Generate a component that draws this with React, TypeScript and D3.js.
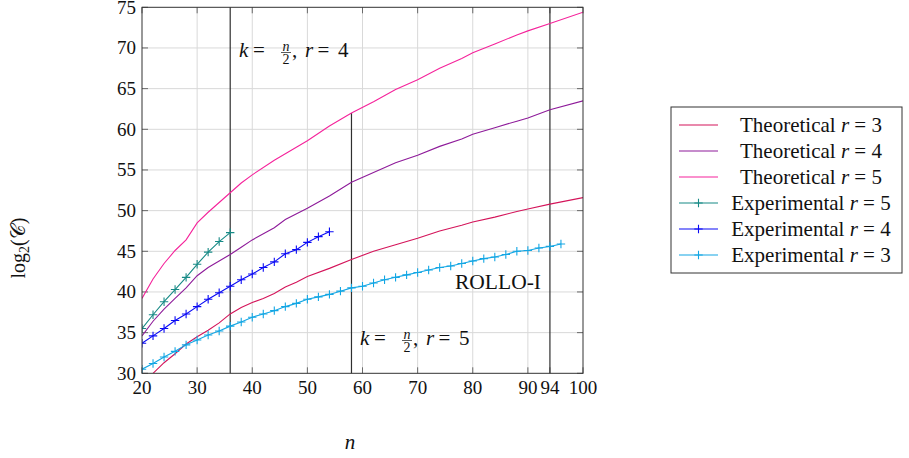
import React, { useRef, useEffect } from 'react';
import * as d3 from 'd3';

// tick values
const xTicks = [20, 30, 40, 50, 60, 70, 80, 90, 94, 100];
const xGrid = [30, 40, 50, 60, 70, 80, 90];
const yTicks = [30, 35, 40, 45, 50, 55, 60, 65, 70, 75];

// theoretical curves
const theo3N = [22, 24, 26, 28, 30, 32, 34, 36, 38, 40, 42, 44, 46, 48, 50, 54, 58, 62, 66, 70, 74, 78, 80, 84, 88, 90, 94, 100];
const theo3V = [30.0, 31.3, 32.4, 33.6, 34.5, 35.3, 36.2, 37.3, 38.1, 38.7, 39.2, 39.8, 40.6, 41.2, 41.9, 42.9, 44.0, 45.0, 45.8, 46.6, 47.5, 48.2, 48.6, 49.2, 49.9, 50.2, 50.8, 51.6];

const theo4N = [20, 22, 24, 26, 28, 30, 32, 34, 36, 38, 40, 44, 46, 50, 54, 58, 62, 66, 70, 74, 78, 80, 84, 88, 90, 94, 100];
const theo4V = [34.6, 36.4, 37.9, 39.2, 40.5, 42.0, 43.0, 43.8, 44.6, 45.5, 46.4, 47.9, 48.9, 50.3, 51.8, 53.5, 54.7, 55.9, 56.8, 57.9, 58.8, 59.4, 60.2, 61.0, 61.4, 62.4, 63.5];

const theo5N = [20, 22, 24, 26, 28, 30, 32, 34, 36, 38, 40, 44, 48, 50, 54, 58, 62, 66, 70, 74, 78, 80, 84, 88, 90, 94, 100];
const theo5V = [39.2, 41.6, 43.5, 45.1, 46.4, 48.5, 49.8, 51.0, 52.2, 53.4, 54.4, 56.2, 57.8, 58.6, 60.4, 62.0, 63.4, 64.9, 66.1, 67.5, 68.7, 69.4, 70.5, 71.6, 72.1, 73.0, 74.4];

// experimental points
const exp5N = [20, 22, 24, 26, 28, 30, 32, 34, 36];
const exp5V = [35.5, 37.2, 38.8, 40.3, 41.8, 43.4, 44.9, 46.2, 47.3];

const exp4N = [20, 22, 24, 26, 28, 30, 32, 34, 36, 38, 40, 42, 44, 46, 48, 50, 52, 54];
const exp4V = [33.7, 34.6, 35.5, 36.5, 37.3, 38.2, 39.1, 39.9, 40.7, 41.5, 42.2, 43.0, 43.7, 44.7, 45.2, 46.1, 46.8, 47.4];

const exp3N = [20, 22, 24, 26, 28, 30, 32, 34, 36, 38, 40, 42, 44, 46, 48, 50, 52, 54, 56, 58, 60, 62, 64, 66, 68, 70, 72, 74, 76, 78, 80, 82, 84, 86, 88, 90, 92, 94, 96];
const exp3V = [30.5, 31.2, 32.0, 32.7, 33.5, 34.1, 34.7, 35.2, 35.8, 36.3, 36.9, 37.3, 37.7, 38.2, 38.6, 39.1, 39.4, 39.7, 40.1, 40.5, 40.7, 41.1, 41.5, 41.8, 42.1, 42.4, 42.7, 43.0, 43.2, 43.5, 43.8, 44.1, 44.3, 44.6, 45.0, 45.1, 45.4, 45.6, 45.9];

// vertical reference lines (n, value where the line stops)
const refN = [36, 58, 94];
const refTop = [75, 62, 75];

const series = [
  { label: 'Theoretical', r: '3', n: theo3N, v: theo3V, color: '#d4145a', marks: false },
  { label: 'Theoretical', r: '4', n: theo4N, v: theo4V, color: '#8e1b9a', marks: false },
  { label: 'Theoretical', r: '5', n: theo5N, v: theo5V, color: '#f5239b', marks: false },
  { label: 'Experimental', r: '5', n: exp5N, v: exp5V, color: '#178a86', marks: true },
  { label: 'Experimental', r: '4', n: exp4N, v: exp4V, color: '#0a0af5', marks: true },
  { label: 'Experimental', r: '3', n: exp3N, v: exp3V, color: '#12a6e4', marks: true },
];

const SERIF = "'Liberation Serif', 'Times New Roman', serif";

const plus = (cx: number, cy: number) => {
  const s = 4.2;
  return `M${cx - s},${cy}H${cx + s}M${cx},${cy - s}V${cy + s}`;
};

export default function App() {
  const ref = useRef<SVGSVGElement>(null);

  useEffect(() => {
    if (!ref.current) return;
    const svg = d3.select(ref.current);
    svg.selectAll('*').remove();

    const x = d3.scaleLinear().domain([20, 100]).range([142, 583]);
    const y = d3.scaleLinear().domain([30, 75]).range([373.3, 7.3]);
    const [x0, x1] = x.range();
    const [yb, yt] = y.range();

    svg.append('clipPath').attr('id', 'plotClip')
      .append('rect').attr('x', x0).attr('y', yt).attr('width', x1 - x0).attr('height', yb - yt);

    // grid
    svg.selectAll('.gx').data(xGrid).enter().append('line')
      .attr('x1', d => x(d)).attr('x2', d => x(d)).attr('y1', yt).attr('y2', yb)
      .attr('stroke', '#d9d9d9');
    svg.selectAll('.gy').data(yTicks.slice(1, -1)).enter().append('line')
      .attr('x1', x0).attr('x2', x1).attr('y1', d => y(d)).attr('y2', d => y(d))
      .attr('stroke', '#d9d9d9');

    // ticks on all four sides
    const tk = svg.append('g').attr('stroke', '#6a6a6a');
    xTicks.forEach(t => {
      tk.append('line').attr('x1', x(t)).attr('x2', x(t)).attr('y1', yb).attr('y2', yb - 6);
      tk.append('line').attr('x1', x(t)).attr('x2', x(t)).attr('y1', yt).attr('y2', yt + 6);
    });
    yTicks.forEach(t => {
      tk.append('line').attr('x1', x0).attr('x2', x0 + 6).attr('y1', y(t)).attr('y2', y(t));
      tk.append('line').attr('x1', x1).attr('x2', x1 - 6).attr('y1', y(t)).attr('y2', y(t));
    });

    // reference lines
    refN.forEach((n, i) => {
      svg.append('line').attr('x1', x(n)).attr('x2', x(n)).attr('y1', yb).attr('y2', y(refTop[i]))
        .attr('stroke', '#2f2f2f').attr('stroke-width', 1.2);
    });

    // series
    const line = d3.line<[number, number]>().x(d => x(d[0])).y(d => y(d[1]));
    const plot = svg.append('g').attr('clip-path', 'url(#plotClip)');
    series.forEach(s => {
      const pts = s.n.map((n, j) => [n, s.v[j]] as [number, number]);
      plot.append('path').attr('d', line(pts) || '').attr('fill', 'none')
        .attr('stroke', s.color).attr('stroke-width', 1.1);
      if (s.marks) {
        plot.append('path').attr('d', pts.map(p => plus(x(p[0]), y(p[1]))).join(''))
          .attr('fill', 'none').attr('stroke', s.color).attr('stroke-width', 1.1);
      }
    });

    // frame
    svg.append('rect').attr('x', x0).attr('y', yt).attr('width', x1 - x0).attr('height', yb - yt)
      .attr('fill', 'none').attr('stroke', '#333');

    const txt = (parent: any, px: number, py: number, s: string, size: number, anchor = 'start', italic = false) =>
      parent.append('text').attr('x', px).attr('y', py).attr('font-size', size)
        .attr('font-family', SERIF).style('font-family', SERIF)
        .attr('text-anchor', anchor).attr('font-style', italic ? 'italic' : 'normal')
        .attr('fill', '#111').text(s);

    // tick labels
    xTicks.forEach(t => txt(svg, x(t), 394, String(t), 19, 'middle'));
    yTicks.forEach(t => txt(svg, 136, y(t) + 6.5, String(t), 19, 'end'));

    // k = n/2 annotations
    const math = (mx: number, my: number, r: string) => {
      txt(svg, mx, my, 'k', 21, 'start', true);
      txt(svg, mx + 14, my, '=', 21);
      txt(svg, mx + 47, my - 6.5, 'n', 14, 'middle', true);
      svg.append('line').attr('x1', mx + 42).attr('x2', mx + 52).attr('y1', my - 4.5).attr('y2', my - 4.5)
        .attr('stroke', '#111').attr('stroke-width', 0.7);
      txt(svg, mx + 47, my + 7, '2', 14, 'middle');
      txt(svg, mx + 53, my, ',', 21);
      txt(svg, mx + 66, my, 'r', 21, 'start', true);
      txt(svg, mx + 78.5, my, '=', 21);
      txt(svg, mx + 99, my, r, 21);
    };
    math(239, 57, '4');
    math(360, 345, '5');
    txt(svg, 455, 289, 'ROLLO-I', 21.5);

    // axis labels
    txt(svg, 350, 449, 'n', 21, 'middle', true);
    const yl = txt(svg, 0, 0, 'log', 20, 'middle').attr('transform', 'translate(25,248) rotate(-90)');
    yl.append('tspan').attr('font-size', 14).attr('dy', 4).text('2');
    yl.append('tspan').attr('dy', -4).text('(𝒞)');

    // legend
    svg.append('rect').attr('x', 671).attr('y', 107).attr('width', 231).attr('height', 166)
      .attr('fill', '#fff').attr('stroke', '#333');
    series.forEach((s, i) => {
      const cy = 125 + i * 26;
      svg.append('line').attr('x1', 679).attr('x2', 718).attr('y1', cy).attr('y2', cy)
        .attr('stroke', s.color).attr('stroke-width', 1.1);
      if (s.marks) {
        svg.append('path').attr('d', plus(698.5, cy)).attr('fill', 'none')
          .attr('stroke', s.color).attr('stroke-width', 1.1);
      }
      const t = txt(svg, 811, cy + 7, s.label + ' ', 21, 'middle');
      t.append('tspan').attr('font-style', 'italic').text('r');
      t.append('tspan').text(' = ' + s.r);
    });
  }, []);

  return (
    <svg ref={ref} width={909} height={458}
      style={{ position: 'absolute', left: 0, top: 0, background: '#fff', fontFamily: SERIF }} />
  );
}
